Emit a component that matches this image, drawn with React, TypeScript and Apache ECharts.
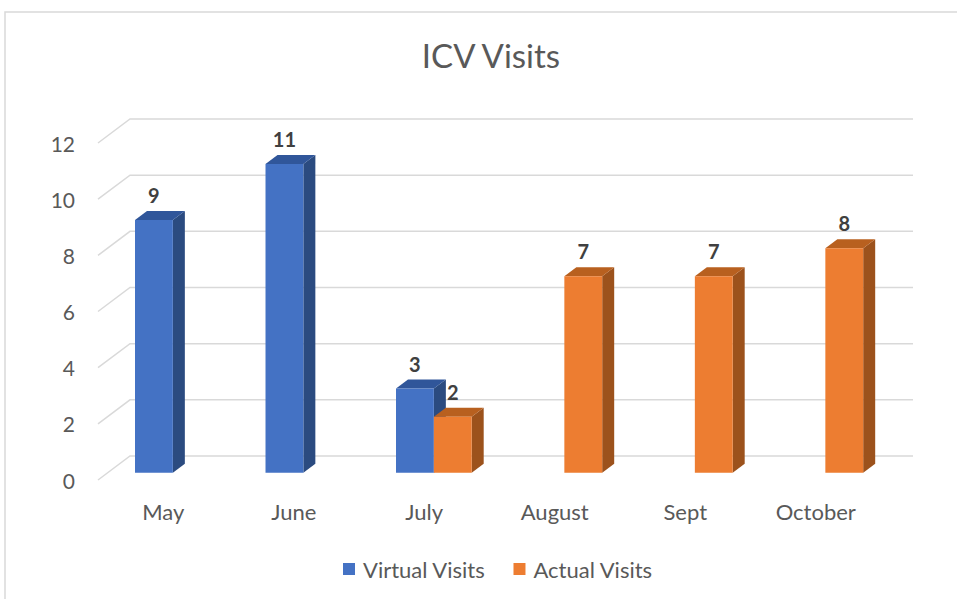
import React, { useEffect, useRef } from "react";
import * as echarts from "echarts";

const categories = ["May", "June", "July", "August", "Sept", "October"];
const virtualVisits: (number | null)[] = [9, 11, 3, null, null, null];
const actualVisits: (number | null)[] = [null, null, 2, 7, 7, 8];
const yTicks = [0, 2, 4, 6, 8, 10, 12];
const seriesNames = ["Virtual Visits", "Actual Visits"];

const FONT = "Lato";
const GRID_DX = 32;
const GRID_DY = -24;
const PLANE_F = 0.3;
const BAR_DX = 12;
const BAR_DY = -9;

const palettes = [
  { front: "#4472C4", top: "#30569A", side: "#2B4B80" },
  { front: "#ED7D31", top: "#B8601F", side: "#9C521C" },
];

function toData(arr: (number | null)[]) {
  const out: number[][] = [];
  arr.forEach((v, i) => {
    if (v !== null && v !== undefined) out.push([i, v]);
  });
  return out;
}

function makeBarRender(sIdx: number) {
  return (params: any, api: any) => {
    const i = api.value(0);
    const v = api.value(1);
    const top = api.coord([i, v]);
    const base = api.coord([i, 0]);
    const catW = api.size([1, 0])[0];
    const bw = catW * 0.29;
    const ox = GRID_DX * PLANE_F;
    const oy = GRID_DY * PLANE_F;
    const cx = top[0] + ox;
    const x0 = sIdx === 0 ? cx - bw : cx;
    const x1 = x0 + bw;
    const yT = top[1] + oy;
    const yB = base[1] + oy;
    const pal = palettes[sIdx];
    return {
      type: "group",
      children: [
        {
          type: "polygon",
          shape: {
            points: [
              [x1, yT],
              [x1 + BAR_DX, yT + BAR_DY],
              [x1 + BAR_DX, yB + BAR_DY],
              [x1, yB],
            ],
          },
          style: { fill: pal.side },
        },
        {
          type: "polygon",
          shape: {
            points: [
              [x0, yT],
              [x0 + BAR_DX, yT + BAR_DY],
              [x1 + BAR_DX, yT + BAR_DY],
              [x1, yT],
            ],
          },
          style: { fill: pal.top },
        },
        {
          type: "rect",
          shape: { x: x0, y: yT, width: bw, height: yB - yT },
          style: { fill: pal.front },
        },
        {
          type: "text",
          style: {
            text: String(v),
            x: (x0 + x1) / 2,
            y: yT - 25,
            align: "center",
            verticalAlign: "middle",
            fill: "#404040",
            font: `bold 20px ${FONT}`,
          },
        },
      ],
    };
  };
}

export default function App() {
  const ref = useRef<HTMLDivElement>(null);
  useEffect(() => {
    if (!ref.current) return;
    const chart = echarts.init(ref.current, null, { renderer: "svg" });
    chart.setOption({
      animation: false,
      backgroundColor: "#ffffff",
      textStyle: { fontFamily: FONT },
      title: {
        text: "ICV Visits",
        left: 486,
        textAlign: "center",
        top: 33,
        textStyle: { fontSize: 33, fontWeight: "normal", color: "#595959", fontFamily: FONT },
      },
      legend: {
        data: seriesNames.map((n, k) => ({ name: n, itemStyle: { color: palettes[k].front } })),
        left: 338,
        top: 553,
        icon: "rect",
        itemWidth: 12,
        itemHeight: 12,
        itemGap: 28,
        textStyle: { fontSize: 22, color: "#595959", fontFamily: FONT, padding: [0, 0, 0, 3] },
      },
      graphic: [
        {
          type: "rect",
          shape: { x: 5, y: 12, width: 1000, height: 1000 },
          style: { fill: "none", stroke: "#d9d9d9", lineWidth: 1.5 },
          silent: true,
        },
      ],
      grid: { left: 98, right: 76, top: 143, bottom: 119 },
      xAxis: {
        type: "category",
        data: categories,
        axisLine: { show: false },
        axisTick: { show: false },
        axisLabel: { margin: 20, fontSize: 22, color: "#595959", fontFamily: FONT },
      },
      yAxis: {
        type: "value",
        min: 0,
        max: 12,
        interval: 2,
        axisLine: { show: false },
        axisTick: { show: false },
        splitLine: { show: false },
        axisLabel: { margin: 23, fontSize: 21, color: "#595959", fontFamily: FONT },
      },
      series: [
        {
          type: "custom",
          name: "grid3d",
          silent: true,
          z: 1,
          data: yTicks.map((t) => [0, t]),
          renderItem: (params: any, api: any) => {
            const cs = params.coordSys;
            const y = api.coord([0, api.value(1)])[1];
            return {
              type: "polyline",
              shape: {
                points: [
                  [cs.x, y],
                  [cs.x + GRID_DX, y + GRID_DY],
                  [cs.x + cs.width + GRID_DX, y + GRID_DY],
                ],
              },
              style: { stroke: "#d9d9d9", lineWidth: 1.5, fill: "none" },
            };
          },
        },
        {
          type: "custom",
          name: seriesNames[0],
          z: 2,
          itemStyle: { color: palettes[0].front },
          data: toData(virtualVisits),
          renderItem: makeBarRender(0),
        },
        {
          type: "custom",
          name: seriesNames[1],
          z: 3,
          itemStyle: { color: palettes[1].front },
          data: toData(actualVisits),
          renderItem: makeBarRender(1),
        },
      ],
    });
    return () => chart.dispose();
  }, []);
  return (
    <div
      ref={ref}
      style={{ position: "absolute", left: 0, top: 0, width: 957, height: 599 }}
    />
  );
}
